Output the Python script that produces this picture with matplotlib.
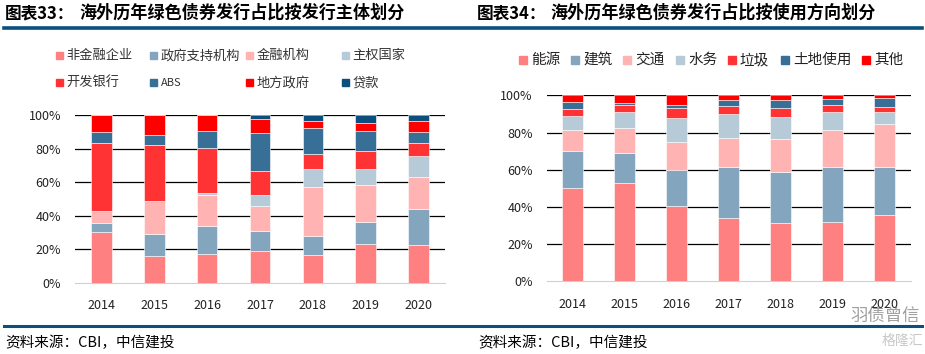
import numpy as np
import matplotlib
matplotlib.use('Agg')
import matplotlib.pyplot as plt
from matplotlib.patches import Rectangle
from matplotlib.lines import Line2D
from matplotlib.ticker import FuncFormatter

plt.rcParams['font.family'] = ['Noto Sans CJK SC', 'DejaVu Sans']

years = ['2014', '2015', '2016', '2017', '2018', '2019', '2020']

# left chart: share by issuer type (%)
issuer_labels = ['非金融企业', '政府支持机构', '金融机构', '主权国家',
                 '开发银行', 'ABS', '地方政府', '贷款']
non_fin_corp = [30.2, 16.1, 17.3, 18.9, 16.5, 22.9, 22.3]
gov_backed = [5.4, 12.9, 16.5, 11.7, 11.5, 13.3, 21.8]
financial = [7.1, 19.9, 18.5, 15.1, 29.1, 22.1, 19.1]
sovereign = [0.0, 0.0, 1.0, 6.6, 10.5, 9.5, 12.1]
dev_bank = [40.4, 33.4, 27.2, 14.3, 9.3, 10.9, 7.8]
abs_share = [6.6, 5.8, 10.2, 22.7, 15.1, 12.0, 7.0]
local_gov = [10.3, 11.9, 9.3, 8.3, 4.2, 4.3, 6.3]
loans = [0.0, 0.0, 0.0, 2.4, 3.8, 5.0, 3.6]
issuer_colors = ['#FF8080', '#84A5BE', '#FFB3B3', '#B7CAD8',
                 '#FF3333', '#376F97', '#FF0000', '#0B4F7E']

# right chart: share by use of proceeds (%)
use_labels = ['能源', '建筑', '交通', '水务', '垃圾', '土地使用', '其他']
energy = [50.0, 53.0, 40.3, 33.9, 31.5, 31.9, 35.7]
building = [20.1, 15.8, 19.6, 27.7, 27.3, 29.7, 25.9]
transport = [11.1, 13.5, 14.8, 15.5, 17.9, 19.9, 23.2]
water = [7.9, 8.9, 12.9, 13.0, 11.8, 9.4, 6.4]
waste = [3.6, 3.4, 5.4, 4.0, 4.5, 3.9, 2.3]
land_use = [3.7, 1.5, 2.0, 3.4, 4.3, 3.4, 5.1]
other = [3.6, 3.9, 5.0, 2.5, 2.7, 1.8, 1.4]
use_colors = ['#FF8080', '#84A5BE', '#FFB3B3', '#B7CAD8',
              '#FF3333', '#376F97', '#FF0000']

W, H = 925, 354
fig = plt.figure(figsize=(W / 100, H / 100), dpi=100)


def fx(px):
    return px / W


def fy(py):
    return 1 - py / H


def add_ax(x0, x1, ytop, ybot):
    return fig.add_axes([fx(x0), fy(ybot), fx(x1 - x0), fy(ytop) - fy(ybot)])


def stacked(ax, series, colors, width):
    x = np.arange(len(years))
    bottom = np.zeros(len(years))
    for vals, c in zip(series, colors):
        vals = np.array(vals)
        ax.bar(x, vals, width, bottom=bottom, color=c, edgecolor='white',
               linewidth=0.4, zorder=3)
        bottom += vals
    ax.set_xlim(-0.5, len(years) - 0.5)
    ax.set_ylim(0, 100)
    ax.set_yticks(np.arange(0, 101, 20))
    ax.yaxis.set_major_formatter(FuncFormatter(lambda v, p: '%d%%' % v))
    ax.set_xticks(x)
    ax.set_xticklabels(years)
    for v in range(20, 101, 20):
        ax.axhline(v, color='black', linewidth=0.9, zorder=1)
    for s in ['top', 'right', 'left']:
        ax.spines[s].set_visible(False)
    ax.spines['bottom'].set_color('#D0D0D0')
    ax.tick_params(length=0, labelsize=9, colors='#222222')
    ax.tick_params(axis='y', pad=10)
    ax.tick_params(axis='x', pad=12)


ax1 = add_ax(75, 445, 115, 282.7)
stacked(ax1, [non_fin_corp, gov_backed, financial, sovereign,
              dev_bank, abs_share, local_gov, loans], issuer_colors, 0.39)

ax2 = add_ax(546.7, 910.7, 95.3, 281.3)
stacked(ax2, [energy, building, transport, water, waste, land_use, other],
        use_colors, 0.40)

# legends (manual grid)
col_x = [56, 150, 246, 342]
row_y = [55.7, 82.7]
for i, (lab, c) in enumerate(zip(issuer_labels, issuer_colors)):
    x0 = col_x[i % 4]
    y0 = row_y[i // 4]
    fig.patches.append(Rectangle((fx(x0), fy(y0 + 3.7)), fx(7.4), fy(y0 - 3.7) - fy(y0 + 3.7),
                                 transform=fig.transFigure, color=c))
    fig.text(fx(x0 + 10.5), fy(y0), lab, fontsize=9.5 if lab != 'ABS' else 8,
             color='#333333', va='center', ha='left')

leg2_x = [519, 571, 623, 676, 728, 781, 862]
for x0, lab, c in zip(leg2_x, use_labels, use_colors):
    y0 = 60
    fig.patches.append(Rectangle((fx(x0), fy(y0 + 4)), fx(8), fy(y0 - 4) - fy(y0 + 4),
                                 transform=fig.transFigure, color=c))
    fig.text(fx(x0 + 12), fy(y0), lab, fontsize=10.5, color='#222222',
             va='center', ha='left')

# titles
fig.text(fx(5), fy(13), '图表33：', fontsize=12, fontweight='bold', va='center')
fig.text(fx(79), fy(13), '海外历年绿色债券发行占比按发行主体划分', fontsize=12.3,
         fontweight='bold', va='center')
fig.text(fx(477), fy(13), '图表34：', fontsize=12, fontweight='bold', va='center')
fig.text(fx(550), fy(13), '海外历年绿色债券发行占比按使用方向划分', fontsize=12.3,
         fontweight='bold', va='center')

blue = '#0B4F7E'
fig.add_artist(Line2D([fx(4), fx(922)], [fy(27.5), fy(27.5)], color=blue, linewidth=2.6))
fig.add_artist(Line2D([fx(4), fx(922)], [fy(326), fy(326)], color=blue, linewidth=2.2))

# sources
fig.text(fx(5), fy(343), '资料来源：CBI，中信建投', fontsize=10.5, style='italic', va='center')
fig.text(fx(478), fy(343), '资料来源：CBI，中信建投', fontsize=10.5, style='italic', va='center')

# watermark
fig.text(fx(850), fy(316), '羽债曾信', fontsize=12.5, color='#888888', va='center', alpha=0.8)
fig.text(fx(882), fy(341), '格隆汇', fontsize=10, color='#C8C8C8', va='center')

fig.savefig('out.png', dpi=100)
